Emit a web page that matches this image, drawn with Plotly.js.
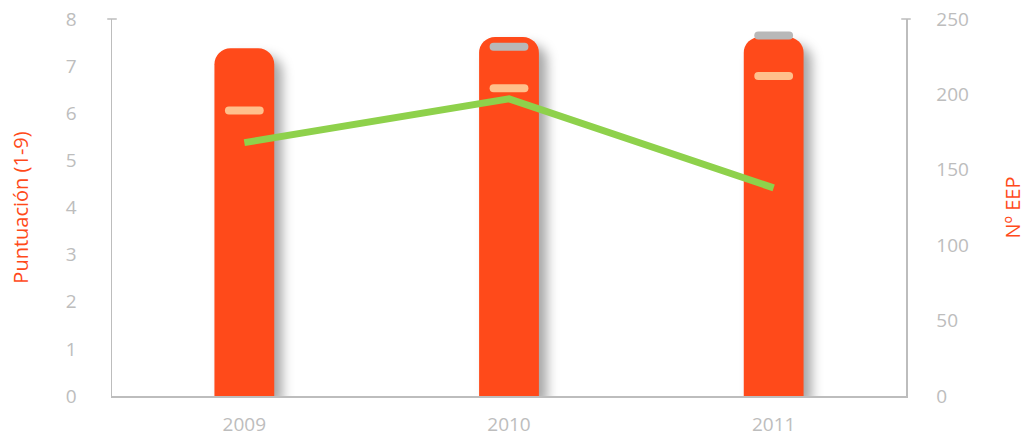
<!DOCTYPE html>
<html>
<head>
<meta charset="utf-8">
<script src="https://cdn.plot.ly/plotly-3.0.1.min.js"></script>
<style>
html,body{margin:0;padding:0;background:#fff;}
#chart{width:1033px;height:441px;}
.barlayer .bars path{filter:drop-shadow(8px 8px 6px rgba(0,0,0,0.35));}
.scatterlayer .points path{stroke-linecap:round;}
</style>
</head>
<body>
<div id="chart"></div>
<script>
var years = ['2009', '2010', '2011'];
var puntuacion = [7.38, 7.62, 7.62];
var marcaNaranja = [6.06, 6.53, 6.79];
var marcaGrisYears = ['2010', '2011'];
var marcaGris = [7.41, 7.65];
var numEEP = [168, 197, 138];
var leftTicks = [0, 1, 2, 3, 4, 5, 6, 7, 8];
var rightTicks = [0, 50, 100, 150, 200, 250];

var tickFont = {family: 'Open Sans', size: 19, color: '#BDBDBD'};
var titleFont = {family: 'Open Sans', size: 20, color: '#FF4A1A'};

var traces = [
  {
    type: 'bar', x: years, y: puntuacion, width: 0.226,
    marker: {color: '#FF4A1A', cornerradius: 16, line: {width: 0}},
    hoverinfo: 'none', showlegend: false
  },
  {
    type: 'scatter', mode: 'markers', x: years, y: marcaNaranja,
    marker: {symbol: 'line-ew', size: 22, line: {color: '#FFC08C', width: 8}},
    hoverinfo: 'none', showlegend: false
  },
  {
    type: 'scatter', mode: 'markers', x: marcaGrisYears, y: marcaGris,
    marker: {symbol: 'line-ew', size: 22, line: {color: '#B8B8B8', width: 8}},
    hoverinfo: 'none', showlegend: false
  },
  {
    type: 'scatter', mode: 'lines', x: years, y: numEEP, yaxis: 'y2',
    line: {color: '#8ED14B', width: 7},
    hoverinfo: 'none', showlegend: false
  }
];

var layout = {
  width: 1033, height: 441,
  margin: {l: 112, r: 127, t: 19, b: 45},
  paper_bgcolor: '#ffffff', plot_bgcolor: '#ffffff',
  font: {family: 'Open Sans'},
  xaxis: {
    type: 'category', range: [-0.5, 2.5],
    showline: true, linecolor: '#BDBDBD', linewidth: 1.5,
    ticks: '', tickfont: tickFont, ticklabelstandoff: 11,
    showgrid: false, zeroline: false, fixedrange: true
  },
  yaxis: {
    range: [0, 8], tickvals: leftTicks,
    showline: true, linecolor: '#BDBDBD', linewidth: 1.5,
    ticks: '', tickfont: tickFont, ticklabelstandoff: 30,
    showgrid: false, zeroline: false,
    title: {text: 'Puntuación (1-9)', font: titleFont, standoff: 32}
  },
  yaxis2: {
    range: [0, 250], tickvals: rightTicks, overlaying: 'y', side: 'right',
    showline: true, linecolor: '#BDBDBD', linewidth: 1.5,
    ticks: '', tickfont: tickFont, ticklabelstandoff: 25,
    showgrid: false, zeroline: false,
    title: {text: 'Nº EEP', font: titleFont, standoff: 38}
  },
  shapes: [
    {type: 'line', xref: 'paper', yref: 'paper', x0: -0.006, x1: 0.006, y0: 1, y1: 1, line: {color: '#BDBDBD', width: 1.5}},
    {type: 'line', xref: 'paper', yref: 'paper', x0: 0.994, x1: 1.006, y0: 1, y1: 1, line: {color: '#BDBDBD', width: 1.5}}
  ]
};

Plotly.newPlot('chart', traces, layout, {displayModeBar: false, staticPlot: true});
</script>
</body>
</html>
